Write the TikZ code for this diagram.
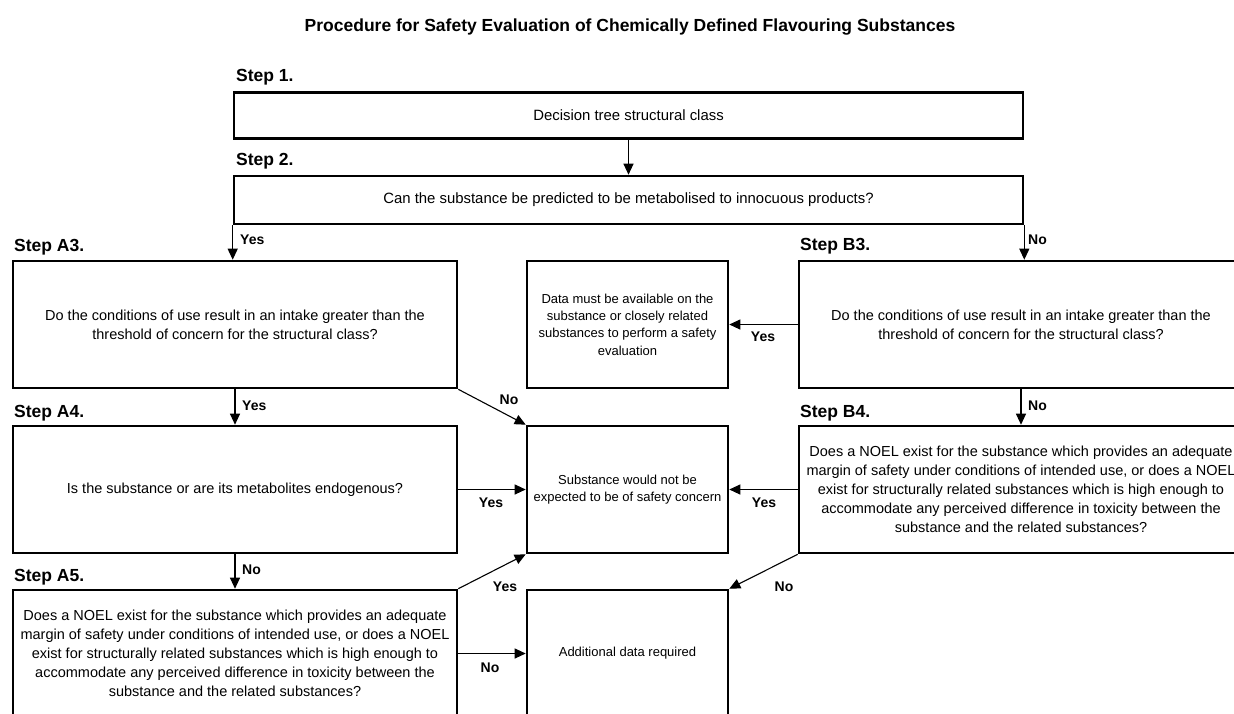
\documentclass[tikz,border=0pt]{standalone}
\usepackage{fontspec}
\setmainfont{Liberation Sans}
\usetikzlibrary{arrows.meta,calc}
\begin{document}
\begin{tikzpicture}[x=1pt,y=-1pt,
 box/.style={draw, line width=2.6pt, align=center, inner sep=0pt, font=\fontsize{14.5}{19}\selectfont},
 midbox/.style={box, minimum width=201pt, minimum height=127pt, font=\fontsize{13}{17.3}\selectfont},
 bigbox/.style={box, minimum width=444pt, minimum height=127pt},
 widebox/.style={box, minimum width=789pt, font=\fontsize{14.9}{19}\selectfont},
 steplab/.style={font=\bfseries\fontsize{17.5}{20}\selectfont, anchor=west, inner sep=0pt},
 lab/.style={font=\bfseries\fontsize{14}{16}\selectfont, inner sep=0pt},
 westlab/.style={lab, anchor=west},
 conn/.style={line width=1.1pt, -{Triangle[length=11pt,width=10pt]}},
]
\useasboundingbox (0,0) rectangle (1234,713);
\clip (0,0) rectangle (1234,713);
\fill[white] (0,0) rectangle (1234,713);

\node[font=\bfseries\fontsize{17.5}{20}\selectfont] (title) at (630,27) {Procedure for Safety Evaluation of Chemically Defined Flavouring Substances};

% boxes
\node[widebox, minimum height=46pt] (s1) at (628.5,115.5) {Decision tree structural class};
\node[widebox, minimum height=48pt] (s2) at (628.5,200) {Can the substance be predicted to be metabolised to innocuous products?};
\node[bigbox] (a3) at (235,324.5) {Do the conditions of use result in an intake greater than the\\threshold of concern for the structural class?};
\node[bigbox] (a4) at (235,489.5) {Is the substance or are its metabolites endogenous?};
\node[bigbox] (a5) at (235,653.5) {Does a NOEL exist for the substance which provides an adequate\\margin of safety under conditions of intended use, or does a NOEL\\exist for structurally related substances which is high enough to\\accommodate any perceived difference in toxicity between the\\substance and the related substances?};
\node[midbox] (d) at (627.5,324.5) {Data must be available on the\\substance or closely related\\substances to perform a safety\\evaluation};
\node[midbox] (sub) at (627.5,489.5) {Substance would not be\\expected to be of safety concern};
\node[midbox] (add) at (627.5,653.5) {Additional data required};
\node[bigbox] (b3) at (1021,324.5) {Do the conditions of use result in an intake greater than the\\threshold of concern for the structural class?};
\node[bigbox] (b4) at (1021,489.5) {Does a NOEL exist for the substance which provides an adequate\\margin of safety under conditions of intended use, or does a NOEL\\exist for structurally related substances which is high enough to\\accommodate any perceived difference in toxicity between the\\substance and the related substances?};

% step labels
\node[steplab] (l1) at (236,77) {Step 1.};
\node[steplab] (l2) at (236,161) {Step 2.};
\node[steplab] (la3) at (14,247) {Step A3.};
\node[steplab] (la4) at (14,413) {Step A4.};
\node[steplab] (la5) at (14,577) {Step A5.};
\node[steplab] (lb3) at (800,246) {Step B3.};
\node[steplab] (lb4) at (800,413) {Step B4.};

% connectors
\draw[conn] (s1.south) -- (s2.north);
\draw[conn] (s2.south west) -- (s2.south west |- a3.north);
\draw[conn] (s2.south east) -- (s2.south east |- b3.north);
\draw[conn] (a3.south) -- (a4.north);
\draw[conn] (a4.south) -- (a5.north);
\draw[conn] (b3.south) -- (b4.north);
\draw[conn] (a3.south east) -- (sub.north west);
\draw[conn] (a4.east) -- (sub.west);
\draw[conn] (a5.north east) -- (sub.south west);
\draw[conn] (a5.east) -- (add.west);
\draw[conn] (b3.west) -- (d.east);
\draw[conn] (b4.west) -- (sub.east);
\draw[conn] (b4.south west) -- (add.north east);

% connector labels
\node[westlab] (y1) at (240,240) {Yes};
\node[westlab] (n1) at (1028,240) {No};
\node[westlab] (y2) at (242,406) {Yes};
\node[westlab] (n2) at (242,570) {No};
\node[westlab] (n3) at (1028,406) {No};
\node[lab] (n4) at (509,400) {No};
\node[lab] (y3) at (763,337) {Yes};
\node[lab] (y4) at (491,503) {Yes};
\node[lab] (y5) at (764,503) {Yes};
\node[lab] (y6) at (505,587) {Yes};
\node[lab] (n5) at (490,668) {No};
\node[lab] (n6) at (784,587) {No};
\end{tikzpicture}
\end{document}
